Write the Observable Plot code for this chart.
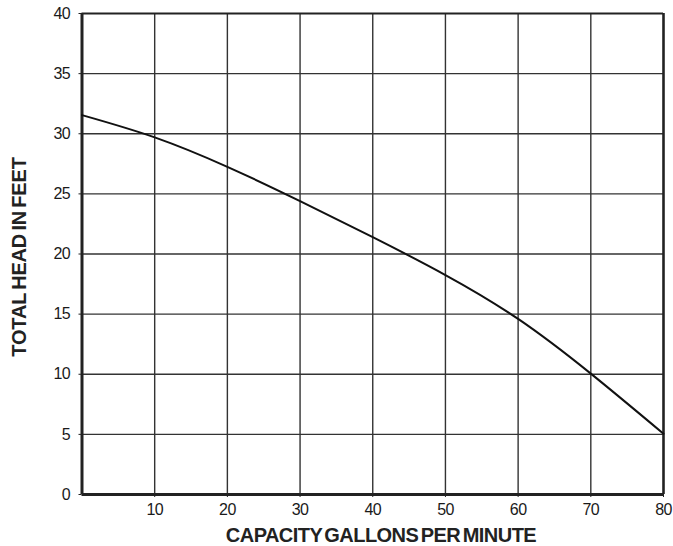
<!DOCTYPE html>
<html>
<head>
<meta charset="utf-8">
<script src="https://cdn.jsdelivr.net/npm/d3@7"></script>
<script src="https://cdn.jsdelivr.net/npm/@observablehq/plot@0.6"></script>
<style>
  html, body { margin: 0; padding: 0; background: #fff; }
  #chart svg { display: block; }
</style>
</head>
<body>
<div id="chart"></div>
<script>
const capacity = [0, 10, 20, 30, 40, 50, 60, 70, 80];
const head = [31.55, 29.7, 27.25, 24.4, 21.4, 18.25, 14.6, 10.05, 5.05];
const xTicks = [10, 20, 30, 40, 50, 60, 70, 80];
const yTicks = [0, 5, 10, 15, 20, 25, 30, 35, 40];
const xGrid = [10, 20, 30, 40, 50, 60, 70];
const yGrid = [5, 10, 15, 20, 25, 30, 35];
const xTitle = "CAPACITY GALLONS PER MINUTE";
const yTitle = "TOTAL HEAD IN FEET";

const data = capacity.map((c, i) => ({capacity: c, head: head[i]}));

const chart = Plot.plot({
  width: 673,
  height: 546,
  marginLeft: 81.5,
  marginRight: 10,
  marginTop: 13,
  marginBottom: 52,
  style: {fontFamily: "'Liberation Sans', Arial, sans-serif", color: "#1a1a1a", background: "#fff", fontSize: "16px"},
  x: {domain: [0, 80]},
  y: {domain: [0, 40]},
  marks: [
    Plot.ruleX(xGrid, {stroke: "#333", strokeWidth: 1.4, strokeOpacity: 1}),
    Plot.ruleY(yGrid, {stroke: "#333", strokeWidth: 1.4, strokeOpacity: 1}),
    Plot.ruleX([80], {stroke: "#222", strokeWidth: 2.6}),
    Plot.ruleY([40], {stroke: "#222", strokeWidth: 2.2}),
    Plot.ruleX([0], {stroke: "#222", strokeWidth: 3}),
    Plot.ruleY([0], {stroke: "#222", strokeWidth: 3}),
    Plot.axisX({ticks: xTicks, tickSize: 3, tickPadding: 6, fontSize: 16, label: null, stroke: "#222"}),
    Plot.axisY({ticks: yTicks, tickSize: 3, tickPadding: 9, fontSize: 16, label: null, stroke: "#222"}),
    Plot.line(data, {x: "capacity", y: "head", curve: "natural", stroke: "#111", strokeWidth: 2})
  ]
});

const svg = d3.select(chart);
svg.selectAll("[aria-label='x-axis tick label'] text, [aria-label='y-axis tick label'] text")
  .style("font-size", "16px")
  .style("letter-spacing", "-0.6px")
  .attr("fill", "#1a1a1a");

svg.append("text")
  .attr("x", 381).attr("y", 542)
  .attr("text-anchor", "middle")
  .style("font-size", "20px").attr("font-weight", "bold")
  .attr("fill", "#222")
  .style("letter-spacing", "-0.55px").style("word-spacing", "-2.5px")
  .text(xTitle);

svg.append("text")
  .attr("transform", "translate(26,257) rotate(-90)")
  .attr("text-anchor", "middle")
  .style("font-size", "20px").attr("font-weight", "bold")
  .attr("fill", "#222")
  .style("letter-spacing", "-0.2px").style("word-spacing", "-2px")
  .text(yTitle);

document.getElementById("chart").appendChild(chart);
</script>
</body>
</html>
